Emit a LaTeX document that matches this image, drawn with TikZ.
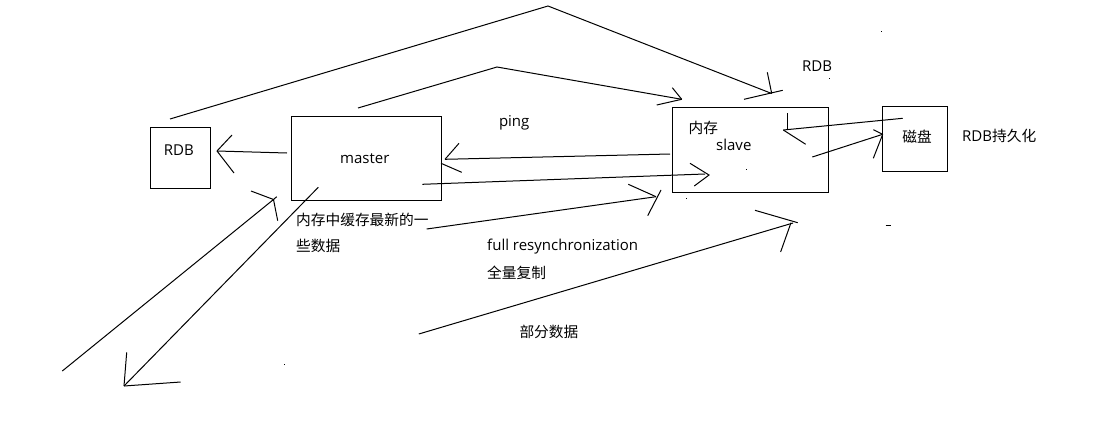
\documentclass[tikz,border=0pt]{standalone}
\usepackage{fontspec}
\setmainfont{Open Sans}
\newfontfamily\cjk{Noto Sans CJK SC}
\begin{document}
\begin{tikzpicture}[x=1pt,y=-1pt,line width=1pt,
  box/.style={draw,inner sep=0pt},
  en/.style={inner sep=0pt,font=\fontsize{15}{18}\selectfont},
  zh/.style={inner sep=0pt,font=\cjk\fontsize{14.7}{18}\selectfont}]
  \useasboundingbox (0,0) rectangle (1102,431);

  % boxes
  \node[box,minimum width=60pt,minimum height=61pt] (rdb) at (180.5,157.7) {};
  \node[box,minimum width=149.6pt,minimum height=84pt] (master) at (366.5,158) {};
  \node[box,minimum width=156pt,minimum height=85pt] (slave) at (750.3,149.8) {};
  \node[box,minimum width=65pt,minimum height=65pt] (disk) at (914.8,138.8) {};

  % labels
  \node[en,anchor=base] (rdbtxt) at (178.8,155.3) {RDB};
  \node[en,anchor=base] (mastertxt) at (364.8,163.3) {master};
  \node[en,anchor=base] (slavetxt) at (733.8,150.7) {slave};
  \node[zh] (mem) at (703.3,128) {内存};
  \node[zh] (disktxt) at (917,136.3) {磁盘};
  \node[en,anchor=base] (ping) at (514.2,126) {ping};
  \node[en,anchor=base] (rdbtop) at (817,71) {RDB};
  \node[en,anchor=base west] (persist) at (961.7,141.2) {RDB{\cjk\fontsize{14.7}{18}\selectfont 持久化}};
  \node[zh,anchor=west] (cache1) at (295.7,220) {内存中缓存最新的一};
  \node[zh,anchor=west] (cache2) at (295.7,245.5) {些数据};
  \node[en,anchor=base west] (full) at (486.7,250.7) {full resynchronization};
  \node[zh,anchor=west] (fullzh) at (486.7,272.5) {全量复制};
  \node[zh,anchor=west] (part) at (519,331.5) {部分数据};

  % line ends
  \coordinate (a1) at (170,119);
  \coordinate (a2) at (548,6);
  \coordinate (a3) at (771.7,93.5);
  \coordinate (b1) at (358,108);
  \coordinate (b2) at (497,67);
  \coordinate (b3) at (681.7,99.3);
  \coordinate (c1) at (287,153);
  \coordinate (c2) at (217,151);
  \coordinate (d1) at (670,154);
  \coordinate (d2) at (445,159.3);
  \coordinate (e1) at (422.3,184.3);
  \coordinate (e2) at (705,174);
  \coordinate (f1) at (426.7,229);
  \coordinate (f2) at (656,196.7);
  \coordinate (g1) at (418.8,334);
  \coordinate (g2) at (793,223);
  \coordinate (h1) at (62.3,371);
  \coordinate (h2) at (273.5,199.5);
  \coordinate (k1) at (318.3,187.3);
  \coordinate (k2) at (124,386);
  \coordinate (m1) at (812.3,157);
  \coordinate (m2) at (882.7,134.3);
  \coordinate (n1) at (902.7,118.3);
  \coordinate (n2) at (783.3,130);

  % strokes
  \draw (a1) -- (a2) -- (a3);
  \draw (a3) -- ++(-4.4,-21.2);
  \draw (a3) ++(-27.7,5.8) -- ++(38.7,-9);
  \draw (b1) -- (b2) -- (b3);
  \draw (b3) -- ++(-9.4,-11.6);
  \draw (b3) -- ++(-25,5.7);
  \draw (c1) -- (c2);
  \draw (c2) -- ++(15,-16);
  \draw (c2) -- ++(17,22);
  \draw (d1) -- (d2);
  \draw (d2) -- ++(14,-16);
  \draw (d2) ++(-4,4) -- ++(20.7,9);
  \draw (e1) -- (e2);
  \draw (e2) ++(-15,-10.7) -- ++(19,11.7) -- ++(-14.7,11);
  \draw (f1) -- (f2);
  \draw (f2) -- ++(-27.7,-12.4);
  \draw (f2) ++(-8.3,19) -- ++(13.3,-25.7);
  \draw (g1) -- (g2);
  \draw (g2) ++(-38,-12.7) -- ++(42.7,12.4);
  \draw (g2) ++(-12.4,29) -- ++(10.4,-29.3);
  \draw (h1) -- (h2);
  \draw (h2) ++(-22.5,-8.5) -- ++(22.5,8.5) -- ++(4.2,21.2);
  \draw (h2) -- ++(3.2,-2.8);
  \draw (k1) -- (k2);
  \draw (k2) -- ++(2.7,-33.7);
  \draw (k2) -- ++(56.7,-4);
  \draw (m1) -- (m2);
  \draw (m2) -- ++(-9.4,-4.6);
  \draw (m2) -- ++(-9.4,24);
  \draw (n1) -- (n2);
  \draw (n2) ++(4,-16.7) -- ++(0,16.7);
  \draw (n2) -- ++(22.4,14.3);

  % stray marks
  \fill (283.5,363.8) rectangle ++(1.2,1.2);
  \fill (745.5,168.8) rectangle ++(1.2,1.2);
  \fill (686.2,197.8) rectangle ++(1.2,1.2);
  \fill (880.5,31.2) rectangle ++(1.6,1);
  \fill (828.5,77.8) rectangle ++(1.2,1.2);
  \draw (885.7,225.3) -- (890.7,225.3);
\end{tikzpicture}
\end{document}
